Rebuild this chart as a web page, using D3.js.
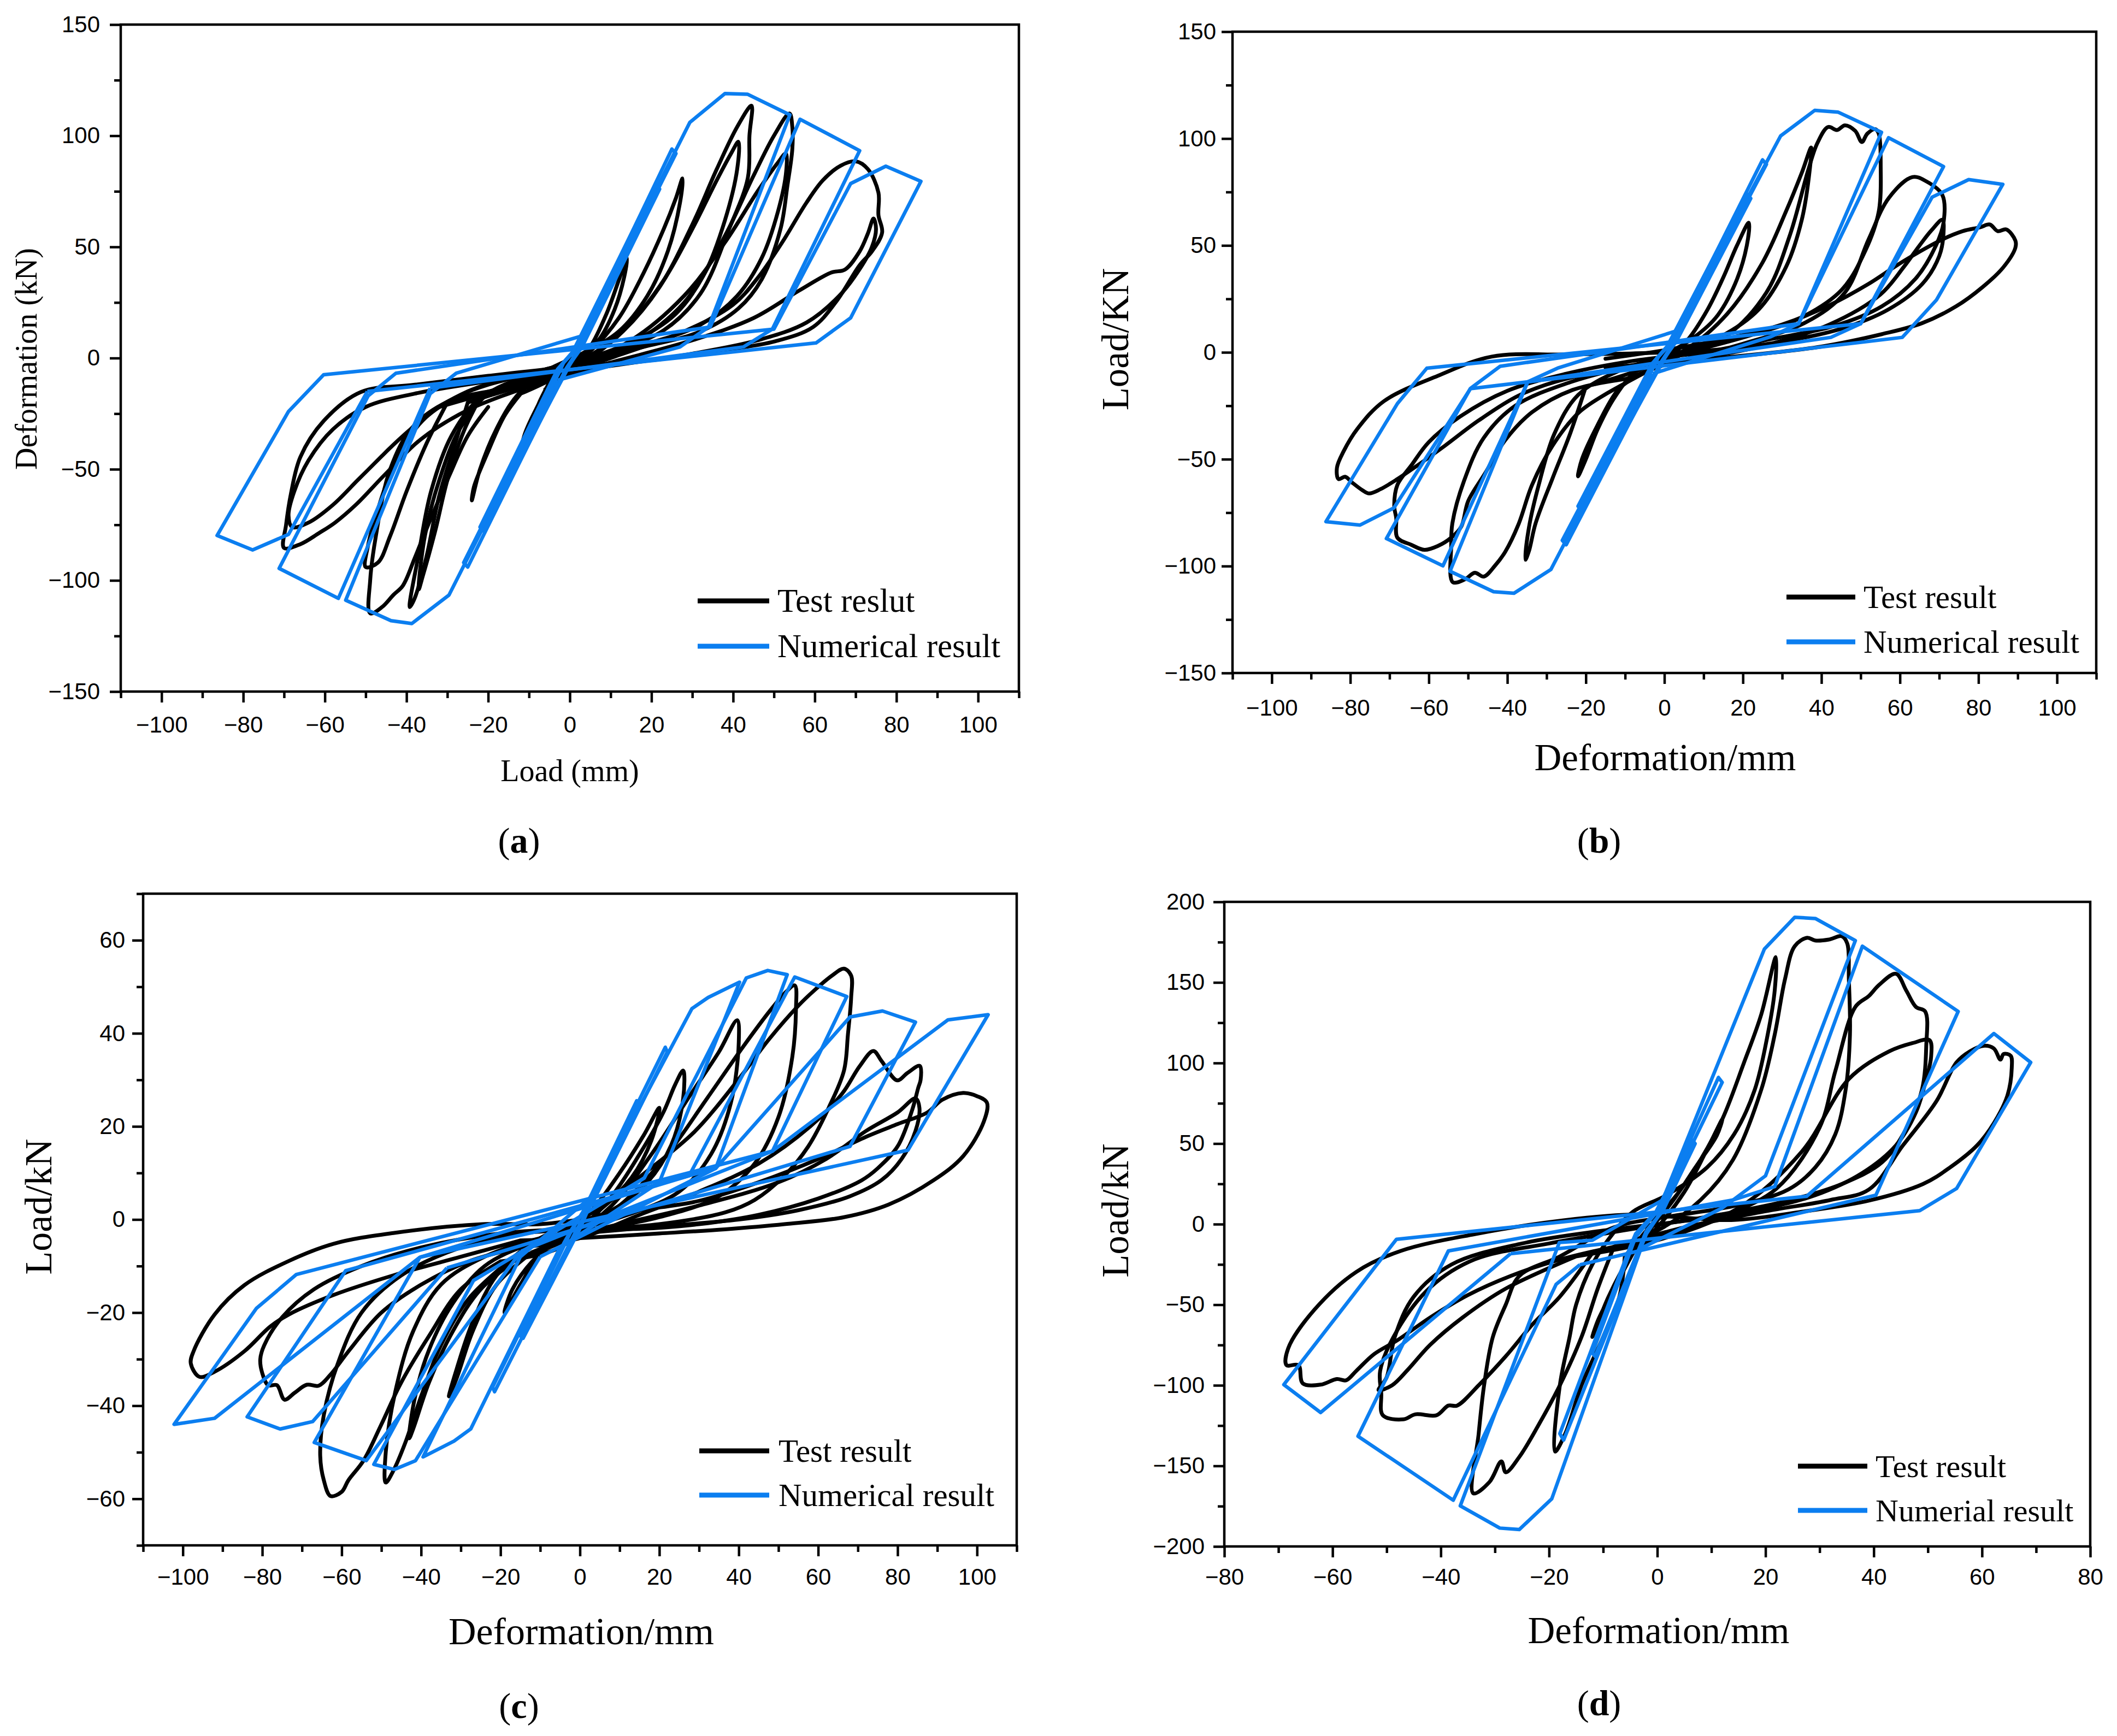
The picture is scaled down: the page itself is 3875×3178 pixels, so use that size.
<!DOCTYPE html>
<html><head><meta charset="utf-8">
<script src="https://cdnjs.cloudflare.com/ajax/libs/d3/7.8.5/d3.min.js"></script>
<style>body{margin:0;background:#fff}</style>
</head><body>
<script>
// ---------------- DATA ----------------
// Panel (a)
const aXTicks = [-100,-80,-60,-40,-20,0,20,40,60,80,100];
const aXMinor = [-110,-90,-70,-50,-30,-10,10,30,50,70,90,110];
const aYTicks = [-150,-100,-50,0,50,100,150];
const aYMinor = [-125,-75,-25,25,75,125];
const aTest = [
 [[-6,-14],[0,-6],[5,5],[9,20],[12,35],[14,45],[13.5,38],[11,22],[7,8],[2,0],[-3,-6],[-7,-18],[-10,-32],[-12,-42],[-11,-34],[-8,-22],[-5,-12]],
 [[-12,-16],[-3,-8],[5,3],[12,18],[18,38],[23,58],[26,72],[27.6,80.8],[27,70],[24,48],[19,28],[12,12],[3,2],[-6,-6],[-13,-17],[-18,-32],[-22,-50],[-24,-64],[-23.5,-58],[-20,-42],[-16,-26],[-12,-16]],
 [[-22,-18],[-8,-10],[4,0],[14,14],[23,35],[30,58],[36,80],[39.5,92],[41.3,97.3],[41,85],[38,62],[33,38],[26,20],[16,8],[3,-1],[-10,-8],[-20,-16],[-27,-32],[-32,-55],[-35.5,-80],[-37,-104],[-36,-98],[-33,-78],[-30,-55],[-26,-33],[-22,-18]],
 [[-25,-20],[-10,-11],[3,-2],[13,12],[22,32],[30,60],[36,85],[41,104],[44.5,113.5],[44,100],[43.6,81],[39,58],[32,29],[23,12.5],[12,4],[0,-3],[-12,-10],[-22,-18],[-29,-35],[-34,-60],[-37,-88],[-39.2,-112],[-38,-108],[-35.2,-90],[-32,-62],[-28,-38],[-25,-20]],
 [[-30,-20],[-14,-12],[0,-4],[15,8],[28,28],[38,52],[46,75],[51,88],[52.9,92],[53,84],[51,66],[47,45],[41,28],[32,15],[20,7],[5,0],[-10,-7],[-25,-15],[-36,-28],[-43,-48],[-47,-68],[-49.5,-85],[-50,-94],[-47,-92],[-44,-80],[-40,-60],[-35,-38],[-30,-20]],
 [[-32,-22],[-15,-13],[0,-5],[15,6],[28,25],[38,55],[45,82],[50,100],[53.8,110],[54.5,104],[54.5,94],[53.3,77.6],[51.6,58],[47,35.4],[41.3,22.3],[32,12],[18,5],[3,-1],[-12,-8],[-26,-16],[-38,-30],[-44,-50],[-47.5,-80],[-48.9,-100],[-48.9,-114.8],[-46,-112],[-43.2,-106.5],[-40.9,-102.4],[-38,-90],[-35.2,-77.3],[-29.5,-52.8],[-25,-35],[-20,-22]],
 [[-11.3,-13.6],[10,0],[28,12],[40,24],[46,36],[52,52],[58,70],[62,80],[66.4,86.6],[70,88.5],[73,85],[75.6,74.4],[75.6,64.3],[76.5,56.5],[74,48],[71,41.8],[65.3,25.5],[59.6,14],[50.4,7.6],[36.7,3.3],[20,-1],[0,-4],[-20,-8],[-38,-12],[-51.2,-15.3],[-60.3,-28.3],[-66,-44.5],[-68.3,-60.9],[-69.5,-75],[-70,-85.4],[-66,-83.7],[-61.5,-78.8],[-57.5,-74],[-52.3,-65.8],[-45.5,-52.8],[-36.4,-36.4],[-25,-23.4],[-11.3,-13.6]],
 [[-46,-44],[-30,-20],[-10,-12],[10,-2],[30,8],[45,18],[56.2,30.4],[64.1,38.5],[67.4,39.8],[71,48],[73,56],[74.4,62.8],[75,58],[74,50],[71,40],[66,28],[58,16],[46,8],[30,2],[12,-3],[-5,-7],[-22,-11],[-38,-16],[-50,-22],[-58,-32],[-64,-46],[-67.5,-60],[-68.9,-70.7],[-68,-76],[-64,-74],[-58,-66],[-52,-55],[-46,-44]]
];
const aNumerical = [
 [[-49.6,-15],[60.3,6.8],[68.8,18.1],[86,79.5],[77.4,86.3],[68.8,78.5],[50,13],[-60.3,-7.5],[-68.9,-24],[-86.4,-79.8],[-77.7,-86.3],[-68.9,-79.3],[-49.6,-15]],
 [[-34.2,-13.5],[42.5,5],[49.6,13],[71,93.3],[56.4,107.4],[34.4,14],[-42.6,-6.8],[-49.4,-17],[-71.2,-94.6],[-56.7,-108.1],[-34.2,-13.5]],
 [[-3,-10],[27,5],[34,14],[53.9,109.4],[43.5,118.7],[38,119],[29.4,106],[3,10],[-27.8,-6.8],[-34.2,-16],[-54.9,-108.9],[-43.8,-118.1],[-38.7,-119.4],[-29.6,-106.6],[-3,-10]],
 [[-1,-5],[1.5,2],[2.5,6],[26,92],[25,94],[1.5,4],[-1.5,-2],[-2.5,-6],[-26,-92],[-25,-94],[-1,-5]],
 [[-0.5,-4],[3,5],[22,76],[21,78],[0.8,3],[-3,-5],[-22,-76],[-21,-78],[-0.5,-4]],
 [[0,-3],[2,3],[18,62],[17.3,63],[0.5,2],[-2,-3],[-18,-62],[-17.3,-63],[0,-3]]
];

// Panel (b)
const bXTicks = [-100,-80,-60,-40,-20,0,20,40,60,80,100];
const bXMinor = [-110,-90,-70,-50,-30,-10,10,30,50,70,90,110];
const bYTicks = [-150,-100,-50,0,50,100,150];
const bYMinor = [-125,-75,-25,25,75,125];
const bTest = [
 [[-8,-12],[0,-4],[6,6],[11,20],[15,35],[18.5,50],[21.5,60.6],[21,50],[18,32],[13,16],[6,5],[-2,-3],[-8,-10],[-13,-22],[-17,-36],[-20,-50],[-22,-58],[-21,-50],[-17,-34],[-12,-18],[-8,-12]],
 [[-20,-16],[-6,-8],[6,2],[16,18],[25,42],[31,66],[35,84],[37.4,95.8],[37,85],[35,62],[31,40],[24,20],[14,7],[1,-2],[-12,-9],[-22,-20],[-28,-38],[-32,-62],[-34.5,-82],[-35.4,-97],[-34.5,-93],[-32.8,-80],[-28.5,-59],[-24,-38],[-20,-16]],
 [[-13.1,-17.6],[2,-3],[16,8],[26,28],[32,55],[36.6,85],[39,98],[41.7,105.4],[44,104],[46,106.2],[48.6,103.6],[50.3,98.4],[51.7,102.3],[53.7,104.4],[54.6,102.3],[55.1,86.7],[54.6,65.8],[51.2,47.6],[45.2,29.3],[34.9,16.3],[22,8],[8,1],[-8,-6],[-24,-14],[-38,-25],[-46,-40],[-51,-60],[-54,-80],[-54.3,-90.6],[-53.9,-107.5],[-50.8,-106.2],[-48.3,-103.1],[-46,-104.9],[-43.1,-99.7],[-40.5,-93.2],[-37.1,-80.2],[-33.7,-62],[-28.5,-43.7],[-21.7,-28],[-13.1,-17.6]],
 [[-9.7,-12.4],[0,-6],[20,4],[36,14],[46,28],[52,52.8],[57.2,72.3],[63.2,82],[66.6,80.1],[70.8,73.6],[71.1,60.6],[69.2,50.1],[64,34.5],[55.4,21.5],[43.4,12.4],[26.3,5.9],[10,0],[-8,-4],[-25,-10],[-40,-18],[-52,-30],[-60,-42],[-64.5,-53],[-68,-62],[-68.8,-72],[-68.3,-77.5],[-68,-86.7],[-64.5,-90],[-61.1,-92.4],[-57.7,-90.6],[-54.3,-86.7],[-51.7,-81.4],[-50,-69.7],[-45.7,-56.7],[-40.5,-41],[-33.7,-28],[-23.4,-17.6],[-9.7,-12.4]],
 [[-8,-7.2],[5,-4],[25,3],[42,13],[55,27],[61,40],[65,50],[68,57],[70.8,62],[71.1,55.6],[70,45],[65.7,32],[57,20],[45,11],[30,5],[12,1],[-8,-0.5],[-25,-1],[-44,-2],[-57.7,-11],[-71.4,-22.8],[-78.2,-35.8],[-81.7,-46.3],[-83.4,-54],[-83,-59.3],[-81.3,-58.2],[-79.6,-60.8],[-76.9,-64.5],[-75.2,-66],[-72.3,-64],[-68,-59.3],[-62.8,-52.8],[-55.9,-43.7],[-47.4,-32],[-37.1,-20.2],[-25.1,-12.4],[-8,-7.2]],
 [[-15,-7],[0,-5],[17.7,-2],[40,2.7],[55.4,8.5],[65.7,13.7],[74.3,21.5],[81.1,30.6],[86.3,39.7],[89.4,48.9],[89.4,52.3],[87.1,57.5],[84.9,56.7],[82.9,59.8],[80.4,58.5],[76,56.7],[70.8,52.8],[60.6,42.3],[52,32],[42,22],[30,13],[15,6],[0,1],[-15,-3]]
];
const bNumerical = [
 [[-49.4,-17],[60.6,7],[69.3,24.5],[86.2,78.6],[77.5,80.8],[68.2,72.6],[50,13.4],[-60.5,-7.4],[-68,-24],[-86.2,-79.2],[-77.5,-80.8],[-68.9,-72.8],[-49.4,-17]],
 [[-34.8,-13.8],[42.4,7],[50,13.4],[71.1,86.9],[57.1,100.4],[34.2,13.4],[-41.8,-6.5],[-49.4,-16.9],[-70.8,-87.1],[-56.4,-99.9],[-34.8,-13.8]],
 [[-3,-10],[27.2,7.4],[34.2,13.4],[55.3,102.9],[44.2,112.4],[38.3,113.2],[29.6,101.2],[3,10],[-27.2,-7.4],[-34.8,-13.8],[-54.6,-102.4],[-43.5,-112],[-38.3,-112.7],[-28.9,-101.6],[-3,-10]],
 [[-1,-5],[1.5,2],[2.5,6],[26,88],[25,90],[1.5,4],[-1.5,-2],[-2.5,-6],[-26,-88],[-25,-90],[-1,-5]],
 [[-0.5,-4],[3,5],[22,72],[21,74],[0.8,3],[-3,-5],[-22,-72],[-21,-74],[-0.5,-4]],
 [[0,-3],[2,3],[18,60],[17.3,61],[0.5,2],[-2,-3],[-18,-60],[-17.3,-61],[0,-3]]
];

// Panel (c)
const cXTicks = [-100,-80,-60,-40,-20,0,20,40,60,80,100];
const cXMinor = [-110,-90,-70,-50,-30,-10,10,30,50,70,90,110];
const cYTicks = [-60,-40,-20,0,20,40,60];
const cYMinor = [-70,-50,-30,-10,10,30,50,70];
const cTest = [
 [[-5,-4],[3,2],[10,10],[16,18],[20,24],[18,17],[13,9],[6,3],[-2,-1],[-9,-6],[-15,-14],[-19,-20],[-17,-15],[-12,-9],[-5,-4]],
 [[-12,-7],[0,-2],[8,5],[15,14],[21,23],[24,29],[26,32],[26,26],[23,16],[17,8],[8,2],[-2,-1],[-12,-5],[-21,-12],[-27,-22],[-31,-32],[-33,-38],[-31,-34],[-27,-24],[-21,-14],[-12,-7]],
 [[-15,-8],[-3,-4],[8,3],[18,14],[28,27],[35,36],[39.6,42.8],[40,38],[38,25],[33,14],[25,6],[12,1],[0,-2],[-12,-5],[-24,-10],[-32,-18],[-38,-28],[-41.5,-38],[-43,-47],[-42,-45],[-38,-35],[-32,-24],[-25,-15],[-15,-8]],
 [[-18,-9],[-5,-5],[10,3],[22,14],[32,26],[41,37],[48,45],[52,49],[54.1,50.3],[54.4,45],[53.5,35],[50,22],[44,12],[35,5],[20,0.5],[5,-2],[-10,-4],[-24,-8],[-35,-14],[-42,-24],[-46.5,-37],[-48.9,-50],[-48.9,-56.5],[-47,-54],[-44,-48],[-40,-38],[-35,-27],[-28,-17],[-18,-9]],
 [[-20,-9],[-5,-6],[5,2],[14,8.4],[28.9,18.9],[40.2,30.4],[47.7,38.8],[55.2,46.1],[59,49.2],[63.5,52.4],[66.5,53.9],[68.3,52.4],[68.3,47.6],[67.5,39.8],[66.5,32],[62.7,24.1],[57.5,15.7],[51.5,9.4],[44,4.2],[36.5,1.5],[20,-1],[5,-2],[-15,-3],[-30,-6],[-45,-12],[-55,-20],[-61,-31],[-64.5,-42],[-65.4,-50.8],[-64.5,-56],[-62.8,-59.4],[-60,-58.5],[-58.3,-56],[-54.5,-51.8],[-50,-44],[-45,-35],[-38,-25],[-30,-15],[-20,-9]],
 [[-15,-6],[0,-4],[15,1],[30,6],[45,12],[58,20],[66,27],[70.5,33],[73.9,36.2],[76,34],[79.9,29.9],[82.5,31.5],[85.6,33],[85.8,30],[85.2,28.3],[83.7,23.6],[80,15.7],[75,11],[70.9,8.4],[60,4.5],[45,1],[30,-1],[15,-2],[0,-2],[-20,-3],[-40,-6],[-55,-10],[-67,-15],[-75,-21],[-79.5,-27],[-80.5,-30],[-80,-33],[-78.5,-35.6],[-76.3,-35.6],[-74.4,-38.7],[-71.8,-37.2],[-68.8,-35.5],[-65.8,-35.7],[-62.9,-33.4],[-58,-28],[-50,-20],[-40,-14],[-28,-9],[-15,-6]],
 [[-10,-5],[10,-1],[30,3],[50,8],[62,13],[72,19],[80,23],[84.5,26],[85.5,24],[84.5,19],[81,13],[76,8.5],[68,5],[55,2],[40,0],[20,-1.5],[0,-3]],
 [[-15,-4.5],[0,-4],[20,-3],[36.5,-2.1],[51.5,-1],[66.5,0.5],[77.7,3.2],[89,8.4],[96.5,13.6],[101.7,21],[102.5,25.1],[100,26.5],[96.5,27.2],[91.2,25.7],[87.5,23],[80,20.5],[72.4,17.9],[60,13],[45,8],[30,4],[15,2],[0,0],[-10,-1],[-24.5,-1],[-47,-2.9],[-62,-5.2],[-73.3,-8.9],[-84.5,-14.1],[-92,-20.4],[-97.3,-28.3],[-98,-30.9],[-95.8,-33.8],[-92,-32.7],[-84.5,-28.3],[-78,-23],[-73.3,-20.4],[-62,-16.2],[-47,-12],[-30,-8],[-15,-4.5]]
];
const cNumerical = [
 [[-40.3,-8.1],[82.6,14.9],[102.8,44],[92.7,42.9],[48.5,14.7],[-71.4,-11.8],[-81.5,-19.1],[-102.2,-44],[-92,-42.7],[-40.3,-8.1]],
 [[-33.5,-10.4],[68,15.7],[84.5,42.4],[76.2,44.8],[68,43.5],[34.2,11],[-59,-11],[-83.8,-42.4],[-75.5,-45],[-67.3,-43.4],[-33.5,-10.4]],
 [[-14.8,-6.8],[48.5,14.7],[67.2,47.9],[54.1,52.1],[27.5,9.4],[-40.3,-8.1],[-66.9,-47.9],[-53.8,-51.8],[-14.8,-6.8]],
 [[-10,-8],[34.2,11],[52.2,52.6],[47.3,53.5],[41.9,51.9],[16.2,8.9],[-26.8,-13.1],[-51.9,-52.6],[-46.7,-53.7],[-41.4,-51.8],[-10,-8]],
 [[-5,-6],[20,8],[40.2,51],[32.3,47.7],[28.2,45.3],[3,5],[-15,-8],[-39.5,-51],[-31.7,-47.6],[-27.5,-45],[-5,-6]],
 [[-1,-2.5],[2,2],[4,5],[22,36],[21.5,37],[1.5,2.5],[-2,-2],[-4,-5],[-22,-36],[-21.5,-37],[-1,-2.5]],
 [[0,-2],[2.5,3],[15,25],[14.3,25.5],[1,2],[-2.5,-3],[-15,-25],[-14.3,-25.5],[0,-2]]
];

// Panel (d)
const dXTicks = [-80,-60,-40,-20,0,20,40,60,80];
const dXMinor = [-70,-50,-30,-10,10,30,50,70];
const dYTicks = [-200,-150,-100,-50,0,50,100,150,200];
const dYMinor = [-175,-125,-75,-25,25,75,125,175];
const dTest = [
 [[-4,-15],[0,-2],[5,20],[9,45],[12,65],[11,55],[7,35],[3,15],[-1,-2],[-5,-20],[-9,-45],[-12,-70],[-11,-60],[-8,-40],[-4,-15]],
 [[-6,-20],[-1,0],[4,20],[8,40],[12,65],[16,100],[19.2,130],[21.9,165.7],[21.7,145],[20.4,117.6],[18,83.3],[14.2,55.8],[9.2,35.2],[1.7,18],[-4.5,7.7],[-8,-5],[-12,-25],[-15,-50],[-16.2,-70],[-18,-100],[-18.9,-141.1],[-17,-130],[-14,-100],[-10,-70],[-7,-45],[-6,-20]],
 [[-8,-14],[0,-4],[8,15],[14,40],[19.2,83.3],[21.7,117.6],[23.6,152],[25.4,172.5],[27.7,177.7],[29.2,176],[31.7,176.6],[34.1,178.7],[35.1,174.2],[35.4,152],[35.6,117.6],[34.8,83.3],[32.9,55.8],[29.2,35.2],[24.2,21.5],[14.2,11.3],[1.7,4.5],[-8,-2],[-18,-20],[-25.5,-32.2],[-28,-50],[-30.4,-70.2],[-32,-100],[-33,-130],[-34,-167],[-31,-160],[-28.8,-147.2],[-28,-154],[-25.5,-144.5],[-22,-125],[-18,-100],[-14,-70],[-11,-40],[-8,-14]],
 [[-12,-18],[0,-8],[12,5],[22,22],[30,60],[32.9,95],[36.6,134.8],[39.1,141.6],[41,148.5],[44.1,155.4],[46,145],[47.8,134.8],[49.5,132],[49.7,110.7],[48.9,83.3],[46,59.2],[41.6,38.6],[34.1,24.9],[24.2,14.6],[11.7,6],[-0.7,-0.9],[-10,-6],[-20,-12],[-33.7,-21.8],[-41.9,-39.1],[-47.9,-65],[-51.2,-91],[-51,-105],[-50.7,-118.6],[-46.9,-121.1],[-44.7,-118],[-40.8,-118.6],[-38.6,-112.6],[-37,-112.6],[-33,-100],[-28,-82],[-23,-62],[-18,-45],[-12,-18]],
 [[-15,-20],[0,-10],[15,10],[26.7,45],[35.4,90.1],[42.9,107.3],[47.2,112.4],[50.3,114.2],[50.6,103.9],[49.7,90.1],[47.8,69.5],[44.1,48.9],[37.9,31.8],[29.2,18],[19.2,9.4],[5,2],[-10,-4],[-25,-12],[-38,-25],[-45,-45],[-48.5,-70],[-50,-95],[-51.5,-103],[-49,-100],[-46,-90],[-42,-75],[-36,-58],[-28,-40],[-15,-20]],
 [[-8,-14],[5,-2],[20,8],[32,15],[39.1,21.5],[45.4,48.9],[51.6,76.4],[55.3,100.4],[57.8,107.3],[60.3,110.7],[62.2,109],[63.4,102.1],[64,105.6],[65.3,104.5],[65.5,97],[64.7,79.8],[62.2,62.7],[59.1,48.9],[54.1,35.2],[49.1,24.9],[39.1,14.6],[26.7,7.7],[14.2,2.6],[5,4],[-3.6,6],[-17.3,2.4],[-33.7,-6.2],[-47.4,-16.6],[-55.6,-29.6],[-63.3,-52.9],[-68.2,-77.1],[-68.5,-87.5],[-66.3,-87.5],[-65.5,-98.8],[-62.2,-99.6],[-59.2,-96.1],[-57.5,-96.9],[-55.6,-91],[-52.3,-80.6],[-48,-72],[-42,-58],[-35,-44],[-27,-32],[-18,-22],[-8,-14]]
];
const dNumerical = [
 [[-27.1,-18.3],[48.5,8.4],[55.3,22.1],[69,100.4],[62.2,118.3],[27.6,17.3],[-48.2,-9.4],[-69,-99.6],[-62.2,-116.9],[-27.1,-18.3]],
 [[-14.3,-25.2],[40.4,18],[55.6,132],[37.9,172.5],[21.7,23.3],[14,15],[-38.6,-16.6],[-55.3,-131.6],[-37.7,-171.3],[-18.7,-37.4],[-14.3,-25.2]],
 [[-3,-15],[12,10],[20,30],[36.6,176],[29.2,189.7],[25.4,190.4],[19.8,170.8],[1,15],[-12,-10],[-18.1,-11.4],[-36.4,-174.8],[-29.1,-188.6],[-25.5,-189.5],[-19.5,-170.5],[-3,-15]],
 [[-2,-6],[0,4],[1,12],[12,88],[11.3,91],[0.4,10],[-4,-6],[-5,-14],[-18,-130],[-17.3,-134],[-2,-6]],
 [[-2,-4],[1,8],[7,50],[6.5,52],[-0.5,6],[-4,-8],[-12,-80],[-11.5,-82],[-2,-4]]
];

const aLegend = ["Test reslut","Numerical result"];
const bLegend = ["Test result","Numerical result"];
const cLegend = ["Test result","Numerical result"];
const dLegend = ["Test result","Numerial result"];

// ---------------- LAYOUT ----------------
const BLUE = "#0b7ef0";
const SERIF = "'Liberation Serif','Times New Roman',serif";
const SANS = "'Liberation Sans',Arial,sans-serif";

const panels = [
 {id:"a", xd:[-110,110], yd:[-150,150], L:221, R:1865, T:45, B:1266,
  xt:aXTicks, xm:aXMinor, yt:aYTicks, ym:aYMinor, test:aTest, num:aNumerical,
  xPad:25, yPad:18, xTitle:"Load (mm)", yTitle:"Deformation (kN)", titleSize:56,
  xTitleY:1430, xTitleX:1043, yTitleX:47, yTitleY:657,
  leg:aLegend, legX1:1277, legX2:1408, legY:[1100,1183], legTX:1423, legSize:61,
  lab:"a", labX:950, labY:1561},
 {id:"b", xd:[-110,110], yd:[-150,150], L:2256, R:3837, T:58, B:1232,
  xt:bXTicks, xm:bXMinor, yt:bYTicks, ym:bYMinor, test:bTest, num:bNumerical,
  xPad:28, yPad:10, xTitle:"Deformation/mm", yTitle:"Load/KN", titleSize:69,
  xTitleY:1410, xTitleX:3048, yTitleX:2041, yTitleY:621,
  leg:bLegend, legX1:3270, legX2:3396, legY:[1093,1175], legTX:3411, legSize:59,
  lab:"b", labX:2927, labY:1561},
 {id:"c", xd:[-110,110], yd:[-70,70], L:262, R:1861, T:1636, B:2829,
  xt:cXTicks, xm:cXMinor, yt:cYTicks, ym:cYMinor, test:cTest, num:cNumerical,
  xPad:22, yPad:13, xTitle:"Deformation/mm", yTitle:"Load/kN", titleSize:70,
  xTitleY:3010, xTitleX:1064, yTitleX:69, yTitleY:2209,
  leg:cLegend, legX1:1280, legX2:1408, legY:[2656,2737], legTX:1425, legSize:59,
  lab:"c", labX:950, labY:3145},
 {id:"d", xd:[-80,80], yd:[-200,200], L:2241, R:3826, T:1651, B:2831,
  xt:dXTicks, xm:dXMinor, yt:dYTicks, ym:dYMinor, test:dTest, num:dNumerical,
  xPad:20, yPad:16, xTitle:"Deformation/mm", yTitle:"Load/kN", titleSize:69,
  xTitleY:3008, xTitleX:3036, yTitleX:2041, yTitleY:2216,
  leg:dLegend, legX1:3291, legX2:3418, legY:[2684,2765], legTX:3433, legSize:58,
  lab:"d", labX:2927, labY:3140}
];

const fmt = v => v < 0 ? "\u2212" + Math.abs(v) : String(v);

const svg = d3.select("body").append("svg")
  .attr("width", 3875).attr("height", 3178)
  .style("background", "#fff");

panels.forEach(p => {
  const g = svg.append("g");
  const x = d3.scaleLinear().domain(p.xd).range([p.L, p.R]);
  const y = d3.scaleLinear().domain(p.yd).range([p.B, p.T]);

  const lineT = d3.line().x(d => x(d[0])).y(d => y(d[1])).curve(d3.curveCatmullRom.alpha(0.5));
  const lineN = d3.line().x(d => x(d[0])).y(d => y(d[1]));

  g.append("g").selectAll("path").data(p.test).join("path")
    .attr("d", lineT).attr("fill", "none").attr("stroke", "#000")
    .attr("stroke-width", 7).attr("stroke-linejoin", "round").attr("stroke-linecap", "round");
  g.append("g").selectAll("path").data(p.num).join("path")
    .attr("d", lineN).attr("fill", "none").attr("stroke", BLUE)
    .attr("stroke-width", 6.5).attr("stroke-linejoin", "round");

  // frame
  g.append("rect").attr("x", p.L).attr("y", p.T).attr("width", p.R - p.L).attr("height", p.B - p.T)
    .attr("fill", "none").attr("stroke", "#000").attr("stroke-width", 4.5);

  const styleAxis = sel => {
    sel.select(".domain").remove();
    sel.selectAll(".tick line").attr("stroke", "#000").attr("stroke-width", 4.5);
    sel.selectAll("text").attr("font-family", SANS).attr("font-size", 42).attr("fill", "#000");
  };
  g.append("g").attr("transform", `translate(0,${p.B})`)
    .call(d3.axisBottom(x).tickValues(p.xt).tickSize(20).tickPadding(p.xPad).tickFormat(fmt)).call(styleAxis);
  g.append("g").attr("transform", `translate(0,${p.B})`)
    .call(d3.axisBottom(x).tickValues(p.xm).tickSize(12).tickFormat("")).call(styleAxis);
  g.append("g").attr("transform", `translate(${p.L},0)`)
    .call(d3.axisLeft(y).tickValues(p.yt).tickSize(20).tickPadding(p.yPad).tickFormat(fmt)).call(styleAxis);
  g.append("g").attr("transform", `translate(${p.L},0)`)
    .call(d3.axisLeft(y).tickValues(p.ym).tickSize(12).tickFormat("")).call(styleAxis);

  // axis titles
  g.append("text").attr("x", p.xTitleX).attr("y", p.xTitleY).attr("text-anchor", "middle")
    .attr("font-family", SERIF).attr("font-size", p.titleSize).text(p.xTitle);
  g.append("text").attr("transform", `translate(${p.yTitleX},${p.yTitleY}) rotate(-90)`)
    .attr("text-anchor", "middle").attr("dy", "0.35em")
    .attr("font-family", SERIF).attr("font-size", p.titleSize).text(p.yTitle);

  // legend
  const cols = ["#000", BLUE];
  p.leg.forEach((t, i) => {
    g.append("line").attr("x1", p.legX1).attr("x2", p.legX2).attr("y1", p.legY[i]).attr("y2", p.legY[i])
      .attr("stroke", cols[i]).attr("stroke-width", 9);
    g.append("text").attr("x", p.legTX).attr("y", p.legY[i] + 20)
      .attr("font-family", SERIF).attr("font-size", p.legSize).text(t);
  });

  // panel label
  const lt = g.append("text").attr("x", p.labX).attr("y", p.labY).attr("text-anchor", "middle")
    .attr("font-family", SERIF).attr("font-size", 66);
  lt.append("tspan").text("(");
  lt.append("tspan").attr("font-weight", "bold").text(p.lab);
  lt.append("tspan").text(")");
});
</script>
</body></html>
